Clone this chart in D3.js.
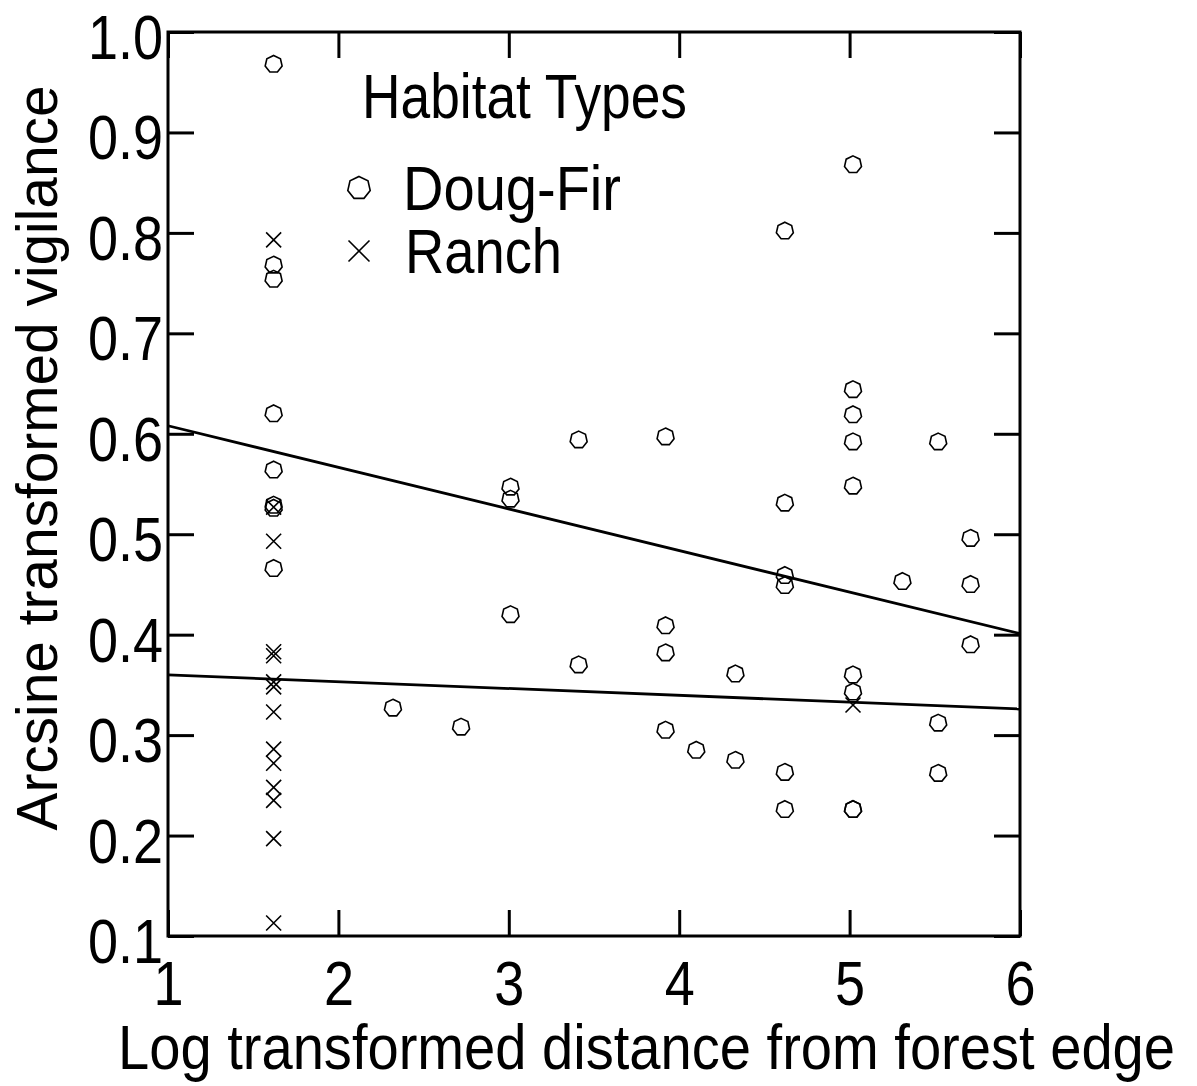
<!DOCTYPE html>
<html>
<head>
<meta charset="utf-8">
<script src="https://cdn.jsdelivr.net/npm/d3@7"></script>
<style>
  body { margin: 0; background: #fff; }
  text { font-family: "Liberation Sans", Arial, sans-serif; fill: #000; }
</style>
</head>
<body>
<div id="chart"></div>
<script>
// Doug-Fir observations (log distance, arcsine vigilance)
var dougX = [1.62, 1.62, 1.62, 1.62, 1.62, 1.62, 1.62, 1.62,
             2.32, 2.72, 3.01, 3.01, 3.01, 3.41, 3.41,
             3.92, 3.92, 3.92, 3.92, 4.10, 4.33, 4.33,
             4.62, 4.62, 4.62, 4.62, 4.62, 4.62,
             5.02, 5.02, 5.02, 5.02, 5.02, 5.02, 5.02, 5.02, 5.02,
             5.31, 5.52, 5.52, 5.52, 5.71, 5.71, 5.71];
var dougY = [0.968, 0.768, 0.754, 0.620, 0.564, 0.529, 0.526, 0.466,
             0.327, 0.308, 0.547, 0.535, 0.420, 0.594, 0.370,
             0.597, 0.409, 0.382, 0.305, 0.285, 0.361, 0.275,
             0.802, 0.531, 0.459, 0.449, 0.263, 0.226,
             0.868, 0.644, 0.619, 0.592, 0.548, 0.360, 0.343, 0.226, 0.226,
             0.453, 0.592, 0.312, 0.262, 0.496, 0.450, 0.390];
// Ranch observations
var ranchX = [1.62, 1.62, 1.62, 1.62, 1.62, 1.62, 1.62, 1.62,
              1.62, 1.62, 1.62, 1.62, 1.62, 1.62, 5.02];
var ranchY = [0.793, 0.527, 0.493, 0.383, 0.379, 0.353, 0.348, 0.323,
              0.286, 0.272, 0.248, 0.235, 0.197, 0.113, 0.330];
// fitted lines, endpoints at x = 1 and x = 6
var fitX = [1, 6];
var fitDoug = [0.608, 0.401];
var fitRanch = [0.360, 0.326];

var xTicks = [1, 2, 3, 4, 5, 6];
var yTicks = [0.1, 0.2, 0.3, 0.4, 0.5, 0.6, 0.7, 0.8, 0.9, 1.0];
var legendTitle = "Habitat Types";
var seriesNames = ["Doug-Fir", "Ranch"];

(function () {
  var W = 1197, H = 1086;
  var mLeft = 168, mRight = 1020, mTop = 32, mBottom = 936;
  var stretch = 1.17;   // the original type is a bit taller than Arial

  var svg = d3.select("#chart").append("svg")
      .attr("width", W).attr("height", H);

  var x = d3.scaleLinear().domain([1, 6]).range([mLeft, mRight]);
  var y = d3.scaleLinear().domain([0.1, 1.0]).range([mBottom, mTop]);

  // heptagon-ish open marker
  function hepta(r) {
    var pts = d3.range(7).map(function (i) {
      var a = -Math.PI / 2 + i * 2 * Math.PI / 7;
      return [r * Math.cos(a), r * Math.sin(a)];
    });
    return "M" + pts.join("L") + "Z";
  }
  function cross(r) {
    return "M" + (-r) + "," + (-r) + "L" + r + "," + r +
           "M" + (-r) + "," + r + "L" + r + "," + (-r);
  }
  function tallText(px, py, size, str, len) {
    var t = svg.append("text")
      .attr("transform", "translate(" + px + "," + py + ") scale(1," + stretch + ")")
      .attr("font-size", size).text(str);
    if (len) t.attr("textLength", len).attr("lengthAdjust", "spacingAndGlyphs");
    return t;
  }

  // axes with inward ticks
  var tickLen = 26;
  var fontTick = 54;

  var gL = svg.append("g").attr("transform", "translate(" + mLeft + ",0)")
    .call(d3.axisLeft(y).tickValues(yTicks).tickFormat(d3.format(".1f"))
          .tickSize(-tickLen).tickPadding(5));
  var gR = svg.append("g").attr("transform", "translate(" + mRight + ",0)")
    .call(d3.axisRight(y).tickValues(yTicks).tickSize(-tickLen).tickFormat(""));
  var gB = svg.append("g").attr("transform", "translate(0," + mBottom + ")")
    .call(d3.axisBottom(x).tickValues(xTicks).tickFormat(d3.format("d"))
          .tickSize(-tickLen));
  var gT = svg.append("g").attr("transform", "translate(0," + mTop + ")")
    .call(d3.axisTop(x).tickValues(xTicks).tickSize(-tickLen).tickFormat(""));

  [gL, gR, gB, gT].forEach(function (g) {
    g.select(".domain").remove();
    g.selectAll(".tick line").attr("stroke", "#000").attr("stroke-width", 3);
  });
  gL.selectAll(".tick text")
    .attr("font-size", fontTick).attr("dy", "0.42em")
    .attr("transform", "scale(1," + stretch + ")")
    .attr("font-family", "Liberation Sans, Arial, sans-serif").attr("fill", "#000");
  gB.selectAll(".tick text")
    .attr("font-size", fontTick).attr("y", 59).attr("dy", 0)
    .attr("transform", "scale(1," + stretch + ")")
    .attr("font-family", "Liberation Sans, Arial, sans-serif").attr("fill", "#000");

  // frame
  svg.append("rect")
    .attr("x", mLeft).attr("y", mTop)
    .attr("width", mRight - mLeft).attr("height", mBottom - mTop)
    .attr("fill", "none").attr("stroke", "#000").attr("stroke-width", 3);

  // fitted lines
  var line = d3.line().x(function (d) { return x(d[0]); }).y(function (d) { return y(d[1]); });
  [fitDoug, fitRanch].forEach(function (f) {
    svg.append("path")
      .attr("d", line(d3.zip(fitX, f)))
      .attr("fill", "none").attr("stroke", "#000").attr("stroke-width", 2.8);
  });

  // points
  svg.append("g").selectAll("path")
    .data(d3.zip(dougX, dougY)).join("path")
    .attr("transform", function (d) { return "translate(" + x(d[0]) + "," + y(d[1]) + ")"; })
    .attr("d", hepta(8.7))
    .attr("fill", "none").attr("stroke", "#000").attr("stroke-width", 1.6);

  svg.append("g").selectAll("path")
    .data(d3.zip(ranchX, ranchY)).join("path")
    .attr("transform", function (d) { return "translate(" + x(d[0]) + "," + y(d[1]) + ")"; })
    .attr("d", cross(7.5))
    .attr("fill", "none").attr("stroke", "#000").attr("stroke-width", 1.6);

  // legend
  tallText(362, 118, 54, legendTitle, 325);
  svg.append("path").attr("transform", "translate(359,188)")
    .attr("d", hepta(11.5)).attr("fill", "none").attr("stroke", "#000").attr("stroke-width", 1.6);
  svg.append("path").attr("transform", "translate(359,251)")
    .attr("d", cross(10.5)).attr("fill", "none").attr("stroke", "#000").attr("stroke-width", 1.6);
  tallText(403, 210, 54, seriesNames[0], 218);
  tallText(405, 273, 54, seriesNames[1], 157);

  // axis titles
  tallText(118, 1069, 54, "Log transformed distance from forest edge", 1057);
  svg.append("text")
    .attr("transform", "translate(57,458) rotate(-90)")
    .attr("text-anchor", "middle")
    .attr("font-size", 57)
    .attr("textLength", 745).attr("lengthAdjust", "spacingAndGlyphs")
    .text("Arcsine transformed vigilance");
})();
</script>
</body>
</html>
